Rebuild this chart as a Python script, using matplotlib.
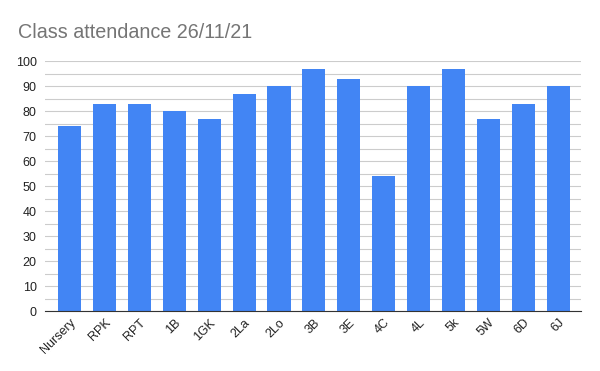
import matplotlib.pyplot as plt
import numpy as np

classes = ["Nursery", "RPK", "RPT", "1B", "1GK", "2La", "2Lo", "3B", "3E",
           "4C", "4L", "5k", "5W", "6D", "6J"]
attendance = [74, 83, 83, 80, 77, 87, 90, 97, 93, 54, 90, 97, 77, 83, 90]
y_ticks = list(range(0, 101, 10))

plt.rcParams["font.family"] = ["Liberation Sans", "DejaVu Sans"]

fig = plt.figure(figsize=(6, 3.71), dpi=100)
ax = fig.add_axes([0.075, 0.1617, 0.893, 0.6731])

x = np.arange(len(classes))
ax.bar(x, attendance, width=0.66, color="#4285F4", zorder=3)

ax.set_xlim(-0.70, len(classes) - 1 + 0.64)
ax.set_ylim(0, 100)
ax.set_yticks(y_ticks)
ax.set_yticks(range(5, 100, 10), minor=True)
ax.grid(axis="y", which="both", color="#cccccc", linewidth=0.8, zorder=0)
ax.tick_params(axis="y", which="both", length=0, labelsize=9, labelcolor="#222222", pad=6)
ax.tick_params(axis="x", length=0, labelsize=9, labelcolor="#222222", pad=4)
ax.set_xticks(x)
ax.set_xticklabels(classes, rotation=45, ha="right", rotation_mode="anchor")

for side in ["top", "right", "left"]:
    ax.spines[side].set_visible(False)
ax.spines["bottom"].set_color("#333333")
ax.spines["bottom"].set_zorder(4)

fig.text(0.03, 0.912, "Class attendance 26/11/21", fontsize=14.2, color="#757575", va="center")

fig.savefig("out.png", dpi=100)
